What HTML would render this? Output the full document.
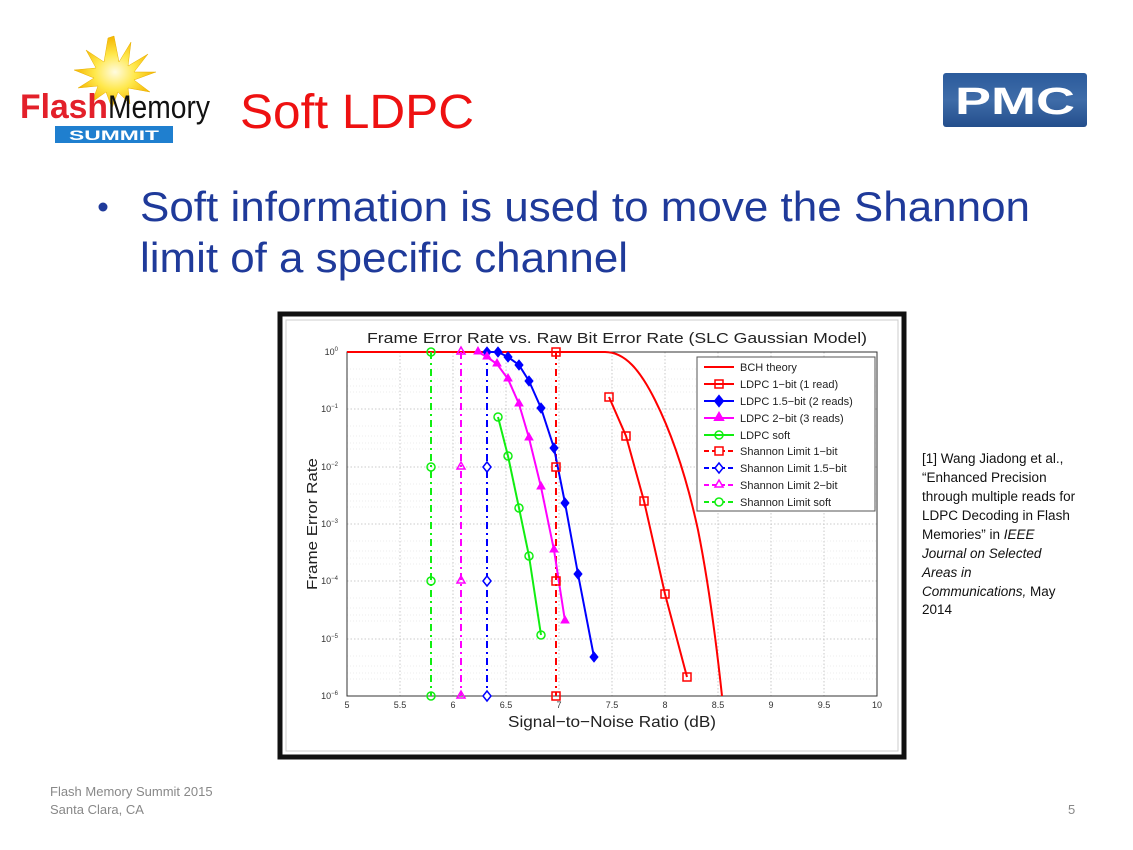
<!DOCTYPE html>
<html><head><meta charset="utf-8"><style>
html,body{margin:0;padding:0;background:#fff}
svg{display:block}
text{font-family:"Liberation Sans",Arial,sans-serif}
</style></head><body>
<svg width="1133" height="850" viewBox="0 0 1133 850" xmlns="http://www.w3.org/2000/svg">
<defs>
<radialGradient id="sun" cx="0.5" cy="0.5" r="0.5"><stop offset="0" stop-color="#fffbe0"/><stop offset="0.5" stop-color="#ffe84a"/><stop offset="1" stop-color="#f4b400"/></radialGradient>
<linearGradient id="pmc" x1="0" y1="0" x2="0" y2="1"><stop offset="0" stop-color="#2b5b9c"/><stop offset="0.5" stop-color="#3f6ca8"/><stop offset="1" stop-color="#244e8c"/></linearGradient>
<pattern id="gridp" width="1" height="1"></pattern>
</defs>
<!-- Flash Memory logo -->
<polygon points="114,36 119,62 131,42 128,66 148,54 134,72 156,72 134,80 150,92 128,88 130,104 118,92 112,108 106,92 92,102 98,86 78,88 94,78 74,70 96,68 86,50 104,62 108,38" fill="url(#sun)" stroke="#e8b000" stroke-width="0.5"/>
<text x="20" y="118" font-size="34" font-weight="bold" fill="#e3202a" textLength="88" lengthAdjust="spacingAndGlyphs">Flash</text>
<text x="108" y="118" font-size="32" fill="#111" font-family="Liberation Serif,serif" textLength="102" lengthAdjust="spacingAndGlyphs">Memory</text>
<rect x="55" y="126" width="118" height="17" fill="#1f7fcf"/>
<text x="114" y="140" font-size="14" font-weight="bold" fill="#fff" text-anchor="middle" textLength="90" lengthAdjust="spacingAndGlyphs">SUMMIT</text>
<!-- Title -->
<text x="240" y="128" font-size="48" fill="#ee1111" textLength="234" lengthAdjust="spacingAndGlyphs">Soft LDPC</text>
<!-- PMC logo -->
<rect x="943" y="73" width="144" height="54" rx="3" fill="url(#pmc)"/>
<text x="1015" y="114" font-size="38" font-weight="bold" fill="#fff" text-anchor="middle" textLength="120" lengthAdjust="spacingAndGlyphs">PMC</text>
<!-- bullets -->
<circle cx="103" cy="207" r="4.5" fill="#1f3a9a"/>
<text x="140" y="221" font-size="42" fill="#1f3a9a" textLength="890" lengthAdjust="spacingAndGlyphs">Soft information is used to move the Shannon</text>
<text x="140" y="272" font-size="42" fill="#1f3a9a" textLength="488" lengthAdjust="spacingAndGlyphs">limit of a specific channel</text>
<!-- reference -->
<g font-size="13.5" fill="#111">
<text x="922" y="463">[1] Wang Jiadong et al.,</text>
<text x="922" y="482">“Enhanced Precision</text>
<text x="922" y="501">through multiple reads for</text>
<text x="922" y="520">LDPC Decoding  in Flash</text>
<text x="922" y="539">Memories” in <tspan font-style="italic">IEEE</tspan></text>
<text x="922" y="558" font-style="italic">Journal on Selected</text>
<text x="922" y="577" font-style="italic">Areas in</text>
<text x="922" y="596"><tspan font-style="italic">Communications,</tspan> May</text>
<text x="922" y="614">2014</text>
</g>
<!-- footer -->
<g font-size="13" fill="#888">
<text x="50" y="796">Flash Memory Summit 2015</text>
<text x="50" y="814">Santa Clara, CA</text>
<text x="1068" y="814">5</text>
</g>
<!-- chart frame -->
<rect x="280" y="314" width="624" height="443" fill="#fff" stroke="#111" stroke-width="5"/>
<rect x="286" y="320" width="612" height="431" fill="none" stroke="#ccc" stroke-width="1"/>
<text x="617" y="343" font-size="15" fill="#222" text-anchor="middle" textLength="500" lengthAdjust="spacingAndGlyphs">Frame Error Rate vs. Raw Bit Error Rate (SLC Gaussian Model)</text>
<!-- grid -->
<g stroke="#bbb" stroke-width="0.8" stroke-dasharray="1.5,2">
<line x1="400" y1="352" x2="400" y2="696"/><line x1="453" y1="352" x2="453" y2="696"/><line x1="506" y1="352" x2="506" y2="696"/><line x1="559" y1="352" x2="559" y2="696"/><line x1="612" y1="352" x2="612" y2="696"/><line x1="665" y1="352" x2="665" y2="696"/><line x1="718" y1="352" x2="718" y2="696"/><line x1="771" y1="352" x2="771" y2="696"/><line x1="824" y1="352" x2="824" y2="696"/>
<line x1="347" y1="409" x2="877" y2="409"/><line x1="347" y1="467" x2="877" y2="467"/><line x1="347" y1="524" x2="877" y2="524"/><line x1="347" y1="581" x2="877" y2="581"/><line x1="347" y1="639" x2="877" y2="639"/>
</g>
<g stroke="#ddd" stroke-width="0.6" stroke-dasharray="1,2">
<line x1="347" y1="369" x2="877" y2="369"/><line x1="347" y1="379" x2="877" y2="379"/><line x1="347" y1="386" x2="877" y2="386"/><line x1="347" y1="392" x2="877" y2="392"/>
<line x1="347" y1="426" x2="877" y2="426"/><line x1="347" y1="436" x2="877" y2="436"/><line x1="347" y1="443" x2="877" y2="443"/><line x1="347" y1="449" x2="877" y2="449"/>
<line x1="347" y1="484" x2="877" y2="484"/><line x1="347" y1="494" x2="877" y2="494"/><line x1="347" y1="501" x2="877" y2="501"/><line x1="347" y1="507" x2="877" y2="507"/>
<line x1="347" y1="541" x2="877" y2="541"/><line x1="347" y1="551" x2="877" y2="551"/><line x1="347" y1="558" x2="877" y2="558"/><line x1="347" y1="564" x2="877" y2="564"/>
<line x1="347" y1="598" x2="877" y2="598"/><line x1="347" y1="608" x2="877" y2="608"/><line x1="347" y1="615" x2="877" y2="615"/><line x1="347" y1="621" x2="877" y2="621"/>
<line x1="347" y1="656" x2="877" y2="656"/><line x1="347" y1="666" x2="877" y2="666"/><line x1="347" y1="673" x2="877" y2="673"/><line x1="347" y1="679" x2="877" y2="679"/>
</g>
<rect x="347" y="352" width="530" height="344" fill="none" stroke="#333" stroke-width="1"/>
<!-- tick labels -->
<g font-size="9" fill="#333" text-anchor="middle">
<text x="347" y="708">5</text><text x="400" y="708">5.5</text><text x="453" y="708">6</text><text x="506" y="708">6.5</text><text x="559" y="708">7</text><text x="612" y="708">7.5</text><text x="665" y="708">8</text><text x="718" y="708">8.5</text><text x="771" y="708">9</text><text x="824" y="708">9.5</text><text x="877" y="708">10</text>
</g>
<g font-size="9" fill="#333" text-anchor="end">
<text x="338" y="355">10<tspan font-size="6" dy="-4">0</tspan></text>
<text x="338" y="412">10<tspan font-size="6" dy="-4">−1</tspan></text>
<text x="338" y="470">10<tspan font-size="6" dy="-4">−2</tspan></text>
<text x="338" y="527">10<tspan font-size="6" dy="-4">−3</tspan></text>
<text x="338" y="584">10<tspan font-size="6" dy="-4">−4</tspan></text>
<text x="338" y="642">10<tspan font-size="6" dy="-4">−5</tspan></text>
<text x="338" y="699">10<tspan font-size="6" dy="-4">−6</tspan></text>
</g>
<text x="612" y="727" font-size="16" fill="#222" text-anchor="middle" textLength="208" lengthAdjust="spacingAndGlyphs">Signal−to−Noise Ratio (dB)</text>
<text transform="translate(317,524) rotate(-90)" font-size="15" fill="#222" text-anchor="middle" textLength="132" lengthAdjust="spacingAndGlyphs">Frame Error Rate</text>
<!-- BCH -->
<path d="M347,352 L605,352 C625,352 640,370 655,400 C670,430 685,470 698,530 C708,580 716,640 722,696" fill="none" stroke="#f00" stroke-width="2"/>
<!-- Shannon verticals -->
<g stroke-width="2" stroke-dasharray="7,4,2,4" fill="none">
<line x1="431" y1="352" x2="431" y2="696" stroke="#1e1"/>
<line x1="461" y1="352" x2="461" y2="696" stroke="#f0f"/>
<line x1="487" y1="352" x2="487" y2="696" stroke="#00f"/>
<line x1="556" y1="352" x2="556" y2="696" stroke="#f00"/>
</g>
<!-- curves -->
<polyline points="609,397 626,436 644,501 665,594 687,677" fill="none" stroke="#f00" stroke-width="2"/>
<polyline points="487,352 498,352 508,357 519,365 529,381 541,408 554,448 565,503 578,574 594,657" fill="none" stroke="#00f" stroke-width="2"/>
<polyline points="478,352 487,357 497,364 508,379 519,404 529,438 541,487 554,550 565,621" fill="none" stroke="#f0f" stroke-width="2"/>
<polyline points="498,417 508,456 519,508 529,556 541,635" fill="none" stroke="#1e1" stroke-width="2"/>
<!-- markers -->
<g fill="none" stroke="#f00" stroke-width="1.5">
<rect x="605" y="393" width="8" height="8"/><rect x="622" y="432" width="8" height="8"/><rect x="640" y="497" width="8" height="8"/><rect x="661" y="590" width="8" height="8"/><rect x="683" y="673" width="8" height="8"/>
<rect x="552" y="348" width="8" height="8"/><rect x="552" y="463" width="8" height="8"/><rect x="552" y="577" width="8" height="8"/><rect x="552" y="692" width="8" height="8"/>
</g>
<g fill="#00f" stroke="#00f">
<path d="M487,347l4,5-4,5-4-5z M498,347l4,5-4,5-4-5z M508,352l4,5-4,5-4-5z M519,360l4,5-4,5-4-5z M529,376l4,5-4,5-4-5z M541,403l4,5-4,5-4-5z M554,443l4,5-4,5-4-5z M565,498l4,5-4,5-4-5z M578,569l4,5-4,5-4-5z M594,652l4,5-4,5-4-5z"/>
</g>
<g fill="#fff" stroke="#00f" stroke-width="1.5">
<path d="M487,462l4,5-4,5-4-5z M487,576l4,5-4,5-4-5z M487,691l4,5-4,5-4-5z"/>
</g>
<g fill="#f0f" stroke="#f0f">
<path d="M478,347l4,7h-8z M487,352l4,7h-8z M497,359l4,7h-8z M508,374l4,7h-8z M519,399l4,7h-8z M529,433l4,7h-8z M541,482l4,7h-8z M554,545l4,7h-8z M565,616l4,7h-8z"/>
</g>
<g fill="none" stroke="#f0f" stroke-width="1.5">
<path d="M461,347l4,7h-8z M461,462l4,7h-8z M461,576l4,7h-8z M461,691l4,7h-8z"/>
</g>
<g fill="none" stroke="#1e1" stroke-width="1.5">
<circle cx="498" cy="417" r="4"/><circle cx="508" cy="456" r="4"/><circle cx="519" cy="508" r="4"/><circle cx="529" cy="556" r="4"/><circle cx="541" cy="635" r="4"/>
<circle cx="431" cy="352" r="4"/><circle cx="431" cy="467" r="4"/><circle cx="431" cy="581" r="4"/><circle cx="431" cy="696" r="4"/>
</g>
<!-- legend -->
<rect x="697" y="357" width="178" height="154" fill="#fff" stroke="#555" stroke-width="1"/>
<g stroke-width="2" fill="none">
<line x1="704" y1="367" x2="734" y2="367" stroke="#f00"/>
<line x1="704" y1="384" x2="734" y2="384" stroke="#f00"/><rect x="715" y="380" width="8" height="8" stroke="#f00" stroke-width="1.5"/>
<line x1="704" y1="401" x2="734" y2="401" stroke="#00f"/><path d="M719,396l4,5-4,5-4-5z" fill="#00f" stroke="#00f"/>
<line x1="704" y1="418" x2="734" y2="418" stroke="#f0f"/><path d="M719,413l4,7h-8z" fill="#f0f" stroke="#f0f"/>
<line x1="704" y1="435" x2="734" y2="435" stroke="#1e1"/><circle cx="719" cy="435" r="4" stroke="#1e1" stroke-width="1.5"/>
<line x1="704" y1="451" x2="734" y2="451" stroke="#f00" stroke-dasharray="5,3"/><rect x="715" y="447" width="8" height="8" fill="#fff" stroke="#f00" stroke-width="1.5"/>
<line x1="704" y1="468" x2="734" y2="468" stroke="#00f" stroke-dasharray="5,3"/><path d="M719,463l4,5-4,5-4-5z" fill="#fff" stroke="#00f" stroke-width="1.5"/>
<line x1="704" y1="485" x2="734" y2="485" stroke="#f0f" stroke-dasharray="5,3"/><path d="M719,480l4,7h-8z" fill="#fff" stroke="#f0f" stroke-width="1.5"/>
<line x1="704" y1="502" x2="734" y2="502" stroke="#1e1" stroke-dasharray="5,3"/><circle cx="719" cy="502" r="4" fill="#fff" stroke="#1e1" stroke-width="1.5"/>
</g>
<g font-size="11" fill="#222">
<text x="740" y="371">BCH theory</text>
<text x="740" y="388">LDPC 1−bit (1 read)</text>
<text x="740" y="405">LDPC 1.5−bit (2 reads)</text>
<text x="740" y="422">LDPC 2−bit (3 reads)</text>
<text x="740" y="439">LDPC soft</text>
<text x="740" y="455">Shannon Limit 1−bit</text>
<text x="740" y="472">Shannon Limit 1.5−bit</text>
<text x="740" y="489">Shannon Limit 2−bit</text>
<text x="740" y="506">Shannon Limit soft</text>
</g>
</svg>
</body></html>
